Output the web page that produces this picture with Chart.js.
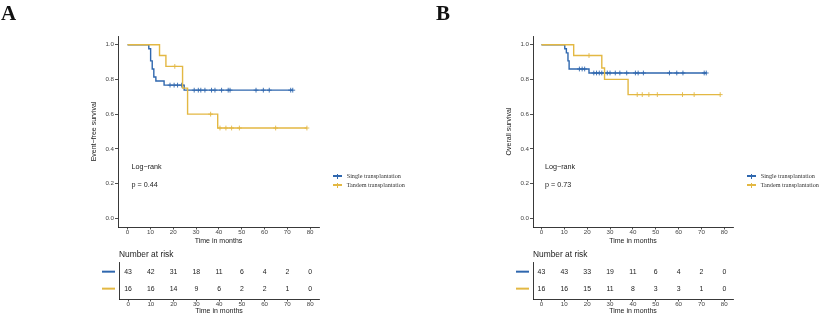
<!DOCTYPE html>
<html><head><meta charset="utf-8">
<script src="https://cdn.jsdelivr.net/npm/chart.js@4.4.1/dist/chart.umd.min.js"></script>
<style>
html,body{margin:0;padding:0;background:#fff;}
#wrap{position:relative;width:824px;height:319px;overflow:hidden;font-family:"Liberation Sans",Arial,sans-serif;color:#222;background:#fff;}
canvas{position:absolute;}
.lbl{position:absolute;white-space:nowrap;line-height:1;}
.panel{font-family:"Liberation Serif","Times New Roman",serif;font-weight:bold;font-size:21px;color:#111;}
.stat{font-size:7.2px;color:#222;}
.nar{font-size:8.4px;color:#222;}
.leg{font-family:"Liberation Serif","Times New Roman",serif;font-size:6.2px;color:#333;}
.sym{position:absolute;}
</style></head>
<body>
<div id="wrap">
  <canvas id="kmA" width="412" height="245" style="left:0;top:0"></canvas>
  <canvas id="riskA" width="412" height="70" style="left:0;top:245px"></canvas>
  <canvas id="kmB" width="412" height="245" style="left:412px;top:0"></canvas>
  <canvas id="riskB" width="412" height="70" style="left:412px;top:245px"></canvas>

  <div class="lbl panel" style="left:1px;top:3px">A</div>
  <div class="lbl panel" style="left:436px;top:3px">B</div>

  <div class="lbl stat" style="left:131.5px;top:163px">Log−rank</div>
  <div class="lbl stat" style="left:131.5px;top:180.5px">p = 0.44</div>
  <div class="lbl stat" style="left:545px;top:163px">Log−rank</div>
  <div class="lbl stat" style="left:545px;top:180.5px">p = 0.73</div>

  <div class="lbl nar" style="left:119px;top:250px">Number at risk</div>
  <div class="lbl nar" style="left:533px;top:250px">Number at risk</div>

  <div id="legA"></div>
  <div id="legB"></div>
</div>
<script>
// ---------- shared ----------
const monthTicks = [0, 10, 20, 30, 40, 50, 60, 70, 80];
const survTicks = [0, 0.2, 0.4, 0.6, 0.8, 1.0];
const seriesNames = ['Single transplantation', 'Tandem transplantation'];
const colorSingle = '#2F67AE';
const colorTandem = '#E3B843';

// ---------- Panel A: event-free survival ----------
const efsSingleTime = [0, 9.3, 10.1, 10.8, 11.5, 12.4, 16.0, 24.8, 72.4];
const efsSingleSurv = [1, 0.977, 0.907, 0.860, 0.814, 0.791, 0.767, 0.738, 0.738];
const efsSingleCensor = [18.6, 20.4, 21.9, 23.7, 29.2, 31.0, 32.1, 33.9, 36.8, 38.3, 41.2, 44.1, 44.9, 56.3, 59.5, 62.1, 71.5, 72.4];
const efsTandemTime = [0, 14.0, 16.8, 24.1, 26.3, 39.5, 78.6];
const efsTandemSurv = [1, 0.9375, 0.875, 0.75, 0.60, 0.52, 0.52];
const efsTandemCensor = [20.7, 36.4, 40.5, 43.1, 45.6, 49.0, 64.9, 78.6];
const efsRiskSingle = [43, 42, 31, 18, 11, 6, 4, 2, 0];
const efsRiskTandem = [16, 16, 14, 9, 6, 2, 2, 1, 0];

// ---------- Panel B: overall survival ----------
const osSingleTime = [0, 10.2, 10.9, 11.6, 12.1, 20.8, 72.1];
const osSingleSurv = [1, 0.977, 0.953, 0.907, 0.860, 0.837, 0.837];
const osSingleCensor = [16.6, 17.8, 18.9, 22.9, 24.1, 25.3, 26.4, 27.6, 28.8, 30.0, 32.3, 34.3, 37.3, 41.1, 42.3, 44.6, 56.0, 59.2, 61.9, 71.2, 72.1];
const osTandemTime = [0, 14.1, 26.4, 27.6, 37.9, 78.2];
const osTandemSurv = [1, 0.9375, 0.866, 0.80, 0.7125, 0.7125];
const osTandemCensor = [20.8, 41.9, 44.1, 47.0, 50.7, 61.7, 66.8, 78.2];
const osRiskSingle = [43, 43, 33, 19, 11, 6, 4, 2, 0];
const osRiskTandem = [16, 16, 15, 11, 8, 3, 3, 1, 0];

Chart.defaults.font.family = '"Liberation Sans", Arial, sans-serif';
Chart.defaults.color = '#333';

function survAt(times, surv, t) {
  let s = surv[0];
  for (let i = 0; i < times.length; i++) if (times[i] <= t) s = surv[i];
  return s;
}
function stepPts(times, surv) { return times.map((t, i) => ({x: t, y: surv[i]})); }
function censorPts(times, surv, cens) { return cens.map(t => ({x: t, y: survAt(times, surv, t)})); }

const axisColor = '#222';
const tickFont = {size: 6.2, lineHeight: 1};
const titleFont = {size: 7};

function makeKM(id, cfg) {
  new Chart(document.getElementById(id), {
    type: 'line',
    data: {datasets: [
      {data: stepPts(cfg.tTime, cfg.tSurv), stepped: true, borderColor: colorTandem, borderWidth: 1.4, pointRadius: 0, fill: false},
      {type: 'scatter', data: censorPts(cfg.tTime, cfg.tSurv, cfg.tCens), showLine: false, pointStyle: 'cross', pointRadius: 2.4, borderColor: colorTandem, borderWidth: 0.9},
      {data: stepPts(cfg.sTime, cfg.sSurv), stepped: true, borderColor: colorSingle, borderWidth: 1.4, pointRadius: 0, fill: false},
      {type: 'scatter', data: censorPts(cfg.sTime, cfg.sSurv, cfg.sCens), showLine: false, pointStyle: 'cross', pointRadius: 2.4, borderColor: colorSingle, borderWidth: 0.9}
    ]},
    options: {
      responsive: false, animation: false, events: [],
      plugins: {legend: {display: false}, tooltip: {enabled: false}},
      layout: {padding: {left: cfg.padLeft, top: 36, right: cfg.padRight, bottom: 0}},
      scales: {
        x: {type: 'linear', min: cfg.xmin, max: cfg.xmax,
          afterBuildTicks: s => { s.ticks = monthTicks.map(v => ({value: v})); },
          afterFit: s => { s.height = 18; },
          grid: {drawOnChartArea: false, drawTicks: true, tickLength: 2.5, color: axisColor, lineWidth: 0.8},
          border: {display: true, color: axisColor, width: 0.9},
          ticks: {font: tickFont, color: '#444', padding: -0.5, maxRotation: 0, autoSkip: false},
          title: {display: true, text: 'Time in months', font: titleFont, color: '#222', padding: 0}},
        y: {type: 'linear', min: -0.05, max: 1.05,
          afterBuildTicks: s => { s.ticks = survTicks.map(v => ({value: v})); },
          afterFit: s => { s.width = 28; },
          grid: {drawOnChartArea: false, drawTicks: true, tickLength: 3, color: axisColor, lineWidth: 0.8},
          border: {display: true, color: axisColor, width: 0.9},
          ticks: {font: tickFont, color: '#444', padding: 1, callback: v => Number(v).toFixed(1)},
          title: {display: true, text: cfg.yTitle, font: titleFont, color: '#222', padding: 0}}
      }
    }
  });
}

const riskPlugin = {
  id: 'riskText',
  afterDatasetsDraw(chart) {
    const ctx = chart.ctx;
    const left = chart.chartArea.left;
    chart.data.datasets.forEach((ds, di) => {
      const meta = chart.getDatasetMeta(di);
      ctx.save();
      ctx.font = '6.9px "Liberation Sans", Arial, sans-serif';
      ctx.fillStyle = '#222';
      ctx.textAlign = 'center';
      ctx.textBaseline = 'middle';
      meta.data.forEach((pt, i) => ctx.fillText(String(ds.counts[i]), pt.x, pt.y));
      const y = chart.scales.y.getPixelForValue(ds.row);
      ctx.strokeStyle = ds.lineColor;
      ctx.lineWidth = 2;
      ctx.beginPath(); ctx.moveTo(left - 17, y); ctx.lineTo(left - 4, y); ctx.stroke();
      ctx.restore();
    });
  }
};

function makeRisk(id, cfg) {
  new Chart(document.getElementById(id), {
    type: 'scatter',
    data: {datasets: [
      {data: monthTicks.map(m => ({x: m, y: 2})), counts: cfg.single, row: 2, lineColor: colorSingle, pointRadius: 0},
      {data: monthTicks.map(m => ({x: m, y: 1})), counts: cfg.tandem, row: 1, lineColor: colorTandem, pointRadius: 0}
    ]},
    plugins: [riskPlugin],
    options: {
      responsive: false, animation: false, events: [],
      plugins: {legend: {display: false}, tooltip: {enabled: false}},
      layout: {padding: {left: 0, top: 17, right: cfg.padRight, bottom: 0}},
      scales: {
        x: {type: 'linear', min: cfg.xmin, max: cfg.xmax,
          afterBuildTicks: s => { s.ticks = monthTicks.map(v => ({value: v})); },
          afterFit: s => { s.height = 16; },
          grid: {drawOnChartArea: false, drawTicks: true, tickLength: 2.5, color: axisColor, lineWidth: 0.8},
          border: {display: true, color: axisColor, width: 0.9},
          ticks: {font: tickFont, color: '#444', padding: -0.5, maxRotation: 0, autoSkip: false},
          title: {display: true, text: 'Time in months', font: titleFont, color: '#222', padding: 0}},
        y: {type: 'linear', min: 0.39, max: 2.57,
          afterFit: s => { s.width = cfg.yWidth; },
          grid: {display: false},
          border: {display: true, color: axisColor, width: 0.9},
          ticks: {display: false}}
      }
    }
  });
}

makeKM('kmA', {sTime: efsSingleTime, sSurv: efsSingleSurv, sCens: efsSingleCensor,
  tTime: efsTandemTime, tSurv: efsTandemSurv, tCens: efsTandemCensor,
  yTitle: 'Event−free survival', padLeft: 90, padRight: 93, xmin: -4.2, xmax: 83.9});
makeRisk('riskA', {single: efsRiskSingle, tandem: efsRiskTandem, yWidth: 119, padRight: 93, xmin: -4.0, xmax: 83.9});
makeKM('kmB', {sTime: osSingleTime, sSurv: osSingleSurv, sCens: osSingleCensor,
  tTime: osTandemTime, tSurv: osTandemSurv, tCens: osTandemCensor,
  yTitle: 'Overall survival', padLeft: 93, padRight: 91, xmin: -3.7, xmax: 83.8});
makeRisk('riskB', {single: osRiskSingle, tandem: osRiskTandem, yWidth: 121, padRight: 91, xmin: -3.7, xmax: 83.8});

// legends (HTML, real text)
function buildLegend(elId, symX, textX) {
  const el = document.getElementById(elId);
  const rows = [{y: 176, c: colorSingle, t: seriesNames[0]}, {y: 185, c: colorTandem, t: seriesNames[1]}];
  rows.forEach(r => {
    const h = document.createElement('div');
    h.className = 'sym';
    h.style.cssText = `left:${symX - 4}px;top:${r.y - 0.6}px;width:9px;height:1.3px;background:${r.c}`;
    const v = document.createElement('div');
    v.className = 'sym';
    v.style.cssText = `left:${symX}px;top:${r.y - 2.5}px;width:1px;height:5px;background:${r.c}`;
    const t = document.createElement('div');
    t.className = 'lbl leg';
    t.style.cssText = `left:${textX}px;top:${r.y - 3.3}px`;
    t.textContent = r.t;
    el.appendChild(h); el.appendChild(v); el.appendChild(t);
  });
}
buildLegend('legA', 337, 346.7);
buildLegend('legB', 751, 760.7);
</script>
</body></html>
